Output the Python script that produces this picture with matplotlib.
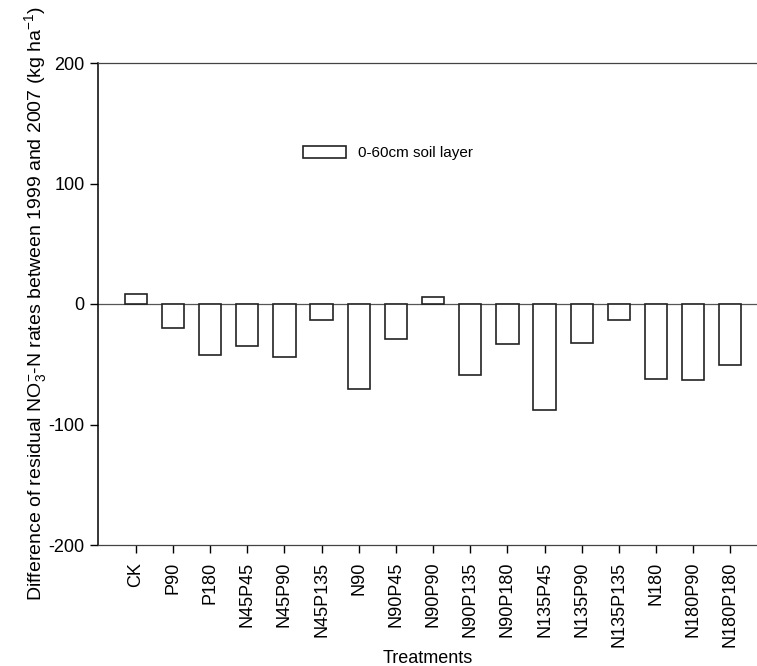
import matplotlib
matplotlib.use("Agg")
import matplotlib.pyplot as plt
import numpy as np

treatments = ["CK", "P90", "P180", "N45P45", "N45P90", "N45P135", "N90", "N90P45",
              "N90P90", "N90P135", "N90P180", "N135P45", "N135P90", "N135P135",
              "N180", "N180P90", "N180P180"]
values = [8.5, -20.3, -42.0, -34.6, -43.7, -13.2, -70.5, -29.0,
          5.5, -59.0, -33.1, -87.9, -32.2, -13.0, -62.1, -63.0, -50.5]
yticks = [-200, -100, 0, 100, 200]

plt.rcParams['font.family'] = ['Liberation Sans', 'DejaVu Sans']
plt.rcParams['axes.unicode_minus'] = False
plt.rcParams['mathtext.fontset'] = 'custom'
plt.rcParams['mathtext.rm'] = 'Liberation Sans'
plt.rcParams['mathtext.it'] = 'Liberation Sans'

fig = plt.figure(figsize=(7.57, 6.66), dpi=100)
ax = fig.add_axes([98/757, 1-545/666, 1-98/757, (545-63)/666])

x = np.arange(len(treatments))
ax.bar(x, values, width=0.6, facecolor='white', edgecolor='#222222', linewidth=1.2,
       label='0-60cm soil layer', zorder=3)
ax.axhline(0, color='#555555', linewidth=0.9, zorder=2)

ax.set_xlim(-1.02, 16.72)
ax.set_ylim(-200, 200)
ax.set_yticks(yticks)
ax.set_xticks(x)
ax.set_xticklabels(treatments, rotation=90, fontsize=13)
ax.tick_params(axis='y', labelsize=13, direction='out', length=6, width=1)
ax.tick_params(axis='x', direction='out', length=6, width=1, pad=6)

ax.spines['right'].set_visible(False)
ax.spines['top'].set_color('#444444')
ax.spines['top'].set_linewidth(0.9)
ax.spines['bottom'].set_color('#444444')
ax.spines['bottom'].set_linewidth(0.9)
ax.spines['left'].set_linewidth(1.1)

ax.set_xlabel('Treatments', fontsize=13, labelpad=2)
ax.set_ylabel(r'Difference of residual NO$_{3}^{-}$-N rates between 1999 and 2007 (kg ha$^{-1}$)',
              fontsize=14, labelpad=0)

leg = ax.legend(loc='center left', bbox_to_anchor=(303/757, 1-153/666),
                bbox_transform=fig.transFigure, frameon=False, fontsize=11,
                handlelength=2.8, handleheight=0.9, handletextpad=0.8, borderpad=0,
                borderaxespad=0)

fig.savefig('out.png', dpi=100)
